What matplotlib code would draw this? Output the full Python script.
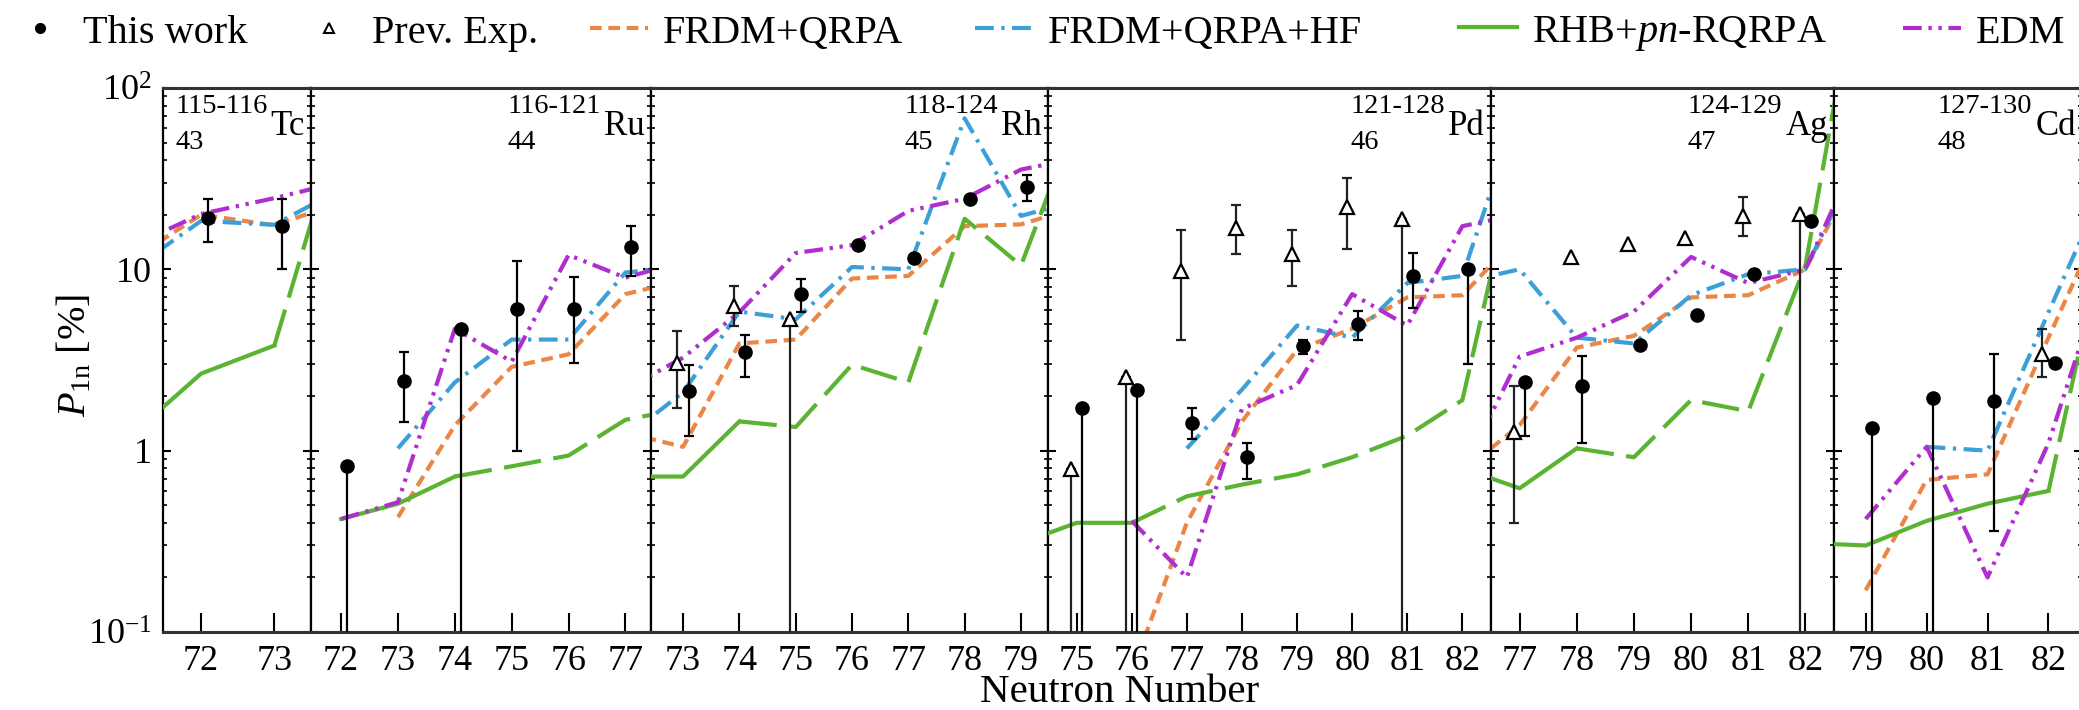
#!/usr/bin/env python
# -*- coding: utf-8 -*-
import numpy as np
import matplotlib
matplotlib.use('Agg')
import matplotlib.pyplot as plt
from matplotlib.lines import Line2D
from matplotlib.ticker import FixedLocator, FixedFormatter, LogLocator, NullFormatter, MultipleLocator

nan = np.nan

# chain labels
elements = ['Tc', 'Ru', 'Rh', 'Pd', 'Ag', 'Cd']
proton_numbers = ['43', '44', '45', '46', '47', '48']
mass_ranges = ['115-116', '116-121', '118-124', '121-128', '124-129', '127-130']
legend_labels = ['This work', 'Prev. Exp.', 'FRDM+QRPA', 'FRDM+QRPA+HF',
                 'RHB+$pn$-RQRPA', 'EDM']
ytick_values = [0.1, 1, 10, 100]
ytick_labels = [r'$10^{-1}$', '1', '10', r'$10^{2}$']

# model predictions of P1n [%] vs neutron number
n_tc = [71, 72, 73, 74]
frdm_tc = [11.0, 20.0, 17.5, 24.0]
frdm_hf_tc = [9.6, 18.5, 17.6, 29.0]
rhb_tc = [1.17, 2.66, 3.8, 85.0]
edm_tc = [13.1, 20.2, 24.7, 31.0]

n_ru = [72, 73, 74, 75, 76, 77, 78]
frdm_ru = [nan, 0.43, 1.38, 2.9, 3.4, 7.3, 8.7]
frdm_hf_ru = [nan, 1.03, 2.38, 4.1, 4.1, 9.6, 10.4]
rhb_ru = [0.42, 0.51, 0.72, 0.82, 0.94, 1.48, 1.7]
edm_ru = [0.42, 0.52, 4.7, 3.1, 12.0, 9.0, 11.0]

n_rh = [72, 73, 74, 75, 76, 77, 78, 79, 80]
frdm_rh = [1.25, 1.05, 3.9, 4.1, 8.9, 9.2, 17.3, 17.7, 22.0]
frdm_hf_rh = [1.2, 2.1, 5.85, 5.3, 10.3, 10.0, 68.0, 19.7, 24.0]
rhb_rh = [0.72, 0.72, 1.45, 1.35, 2.98, 2.38, 19.0, 10.5, 68.0]
edm_rh = [2.2, 3.26, 5.8, 12.3, 13.6, 21.0, 24.5, 35.5, 41.0]

n_pd = [74, 75, 76, 77, 78, 79, 80, 81, 82, 83]
frdm_pd = [nan, nan, 0.06, 0.40, 1.45, 3.6, 4.7, 7.0, 7.2, 15.0]
frdm_hf_pd = [nan, nan, nan, 1.03, 2.17, 4.9, 4.2, 8.4, 9.2, 73.0]
rhb_pd = [0.31, 0.40, 0.40, 0.56, 0.65, 0.74, 0.92, 1.21, 1.9, 40.0]
edm_pd = [nan, nan, 0.41, 0.20, 1.7, 2.3, 7.3, 4.9, 17.3, 20.0]

n_ag = [76, 77, 78, 79, 80, 81, 82, 83]
frdm_ag = [0.77, 1.38, 3.7, 4.3, 7.0, 7.2, 10.0, 40.0]
frdm_hf_ag = [8.5, 10.0, 4.2, 3.9, 7.2, 9.4, 10.0, 45.0]
rhb_ag = [0.80, 0.62, 1.03, 0.92, 1.9, 1.65, 10.5, 600.0]
edm_ag = [0.76, 3.3, 4.2, 5.85, 11.7, 8.4, 10.0, 50.0]

n_cd = [78, 79, 80, 81, 82, 83]
frdm_cd = [nan, 0.17, 0.69, 0.74, 4.2, 23.0]
frdm_hf_cd = [nan, nan, 1.05, 1.0, 5.8, 33.0]
rhb_cd = [0.31, 0.30, 0.41, 0.51, 0.60, 20.0]
edm_cd = [nan, 0.42, 1.05, 0.20, 1.1, 12.0]

# this work: value, lower and upper error (nan = no bar drawn)
tw_n_tc = [72, 73]
tw_p_tc = [19.2, 17.3]
tw_lo_tc = [5.1, 7.2]
tw_hi_tc = [5.3, 7.2]

tw_n_ru = [72, 73, 74, 75, 76, 77]
tw_p_ru = [0.82, 2.43, 4.67, 6.06, 6.06, 13.2]
tw_lo_ru = [0.82, 1.0, 4.67, 5.06, 3.0, 4.0]
tw_hi_ru = [0.0, 1.05, 0.0, 5.1, 3.0, 4.1]

tw_n_rh = [73, 74, 75, 76, 77, 78, 79]
tw_p_rh = [2.12, 3.48, 7.33, 13.6, 11.5, 24.5, 28.6]
tw_lo_rh = [0.91, 0.94, 1.48, nan, nan, nan, 4.9]
tw_hi_rh = [0.86, 0.89, 1.52, nan, nan, nan, 4.6]

tw_n_pd = [75, 76, 77, 78, 79, 80, 81, 82]
tw_p_pd = [1.73, 2.15, 1.42, 0.92, 3.76, 5.0, 9.2, 10.1]
tw_lo_pd = [1.73, 2.15, 0.26, 0.22, 0.36, 0.9, 3.1, 7.1]
tw_hi_pd = [0.0, 0.0, 0.3, 0.18, 0.34, 0.9, 3.1, 0.0]

tw_n_ag = [77, 78, 79, 80, 81, 82]
tw_p_ag = [2.38, 2.27, 3.81, 5.6, 9.4, 18.5]
tw_lo_ag = [1.17, 1.17, nan, nan, nan, nan]
tw_hi_ag = [0.0, 1.07, nan, nan, nan, nan]

tw_n_cd = [79, 80, 81, 82]
tw_p_cd = [1.33, 1.94, 1.88, 3.04]
tw_lo_cd = [1.33, 1.94, 1.52, nan]
tw_hi_cd = [0.0, 0.0, 1.52, nan]

# previous measurements
pe_n_rh = [73, 74, 75]
pe_p_rh = [3.04, 6.25, 5.34]
pe_lo_rh = [1.31, 1.36, 5.34]
pe_hi_rh = [1.53, 1.84, 0.0]

pe_n_pd = [75, 76, 77, 78, 79, 80, 81]
pe_p_pd = [0.79, 2.54, 9.8, 16.9, 12.1, 22.1, 18.9]
pe_lo_pd = [0.79, 2.54, 5.7, 4.8, 4.0, 9.1, 18.9]
pe_hi_pd = [0.0, 0.0, 6.7, 5.7, 4.4, 9.6, 0.0]

pe_n_ag = [77, 78, 79, 80, 81, 82]
pe_p_ag = [1.27, 11.7, 13.8, 14.9, 19.7, 20.2]
pe_lo_ag = [0.87, nan, nan, nan, 4.5, 20.2]
pe_hi_ag = [1.0, nan, nan, nan, 5.2, 0.0]

pe_n_cd = [82]
pe_p_cd = [3.4]
pe_lo_cd = [0.86]
pe_hi_cd = [1.3]

empty = []

models = [
    (n_tc, frdm_tc, frdm_hf_tc, rhb_tc, edm_tc),
    (n_ru, frdm_ru, frdm_hf_ru, rhb_ru, edm_ru),
    (n_rh, frdm_rh, frdm_hf_rh, rhb_rh, edm_rh),
    (n_pd, frdm_pd, frdm_hf_pd, rhb_pd, edm_pd),
    (n_ag, frdm_ag, frdm_hf_ag, rhb_ag, edm_ag),
    (n_cd, frdm_cd, frdm_hf_cd, rhb_cd, edm_cd),
]
this_work = [
    (tw_n_tc, tw_p_tc, tw_lo_tc, tw_hi_tc),
    (tw_n_ru, tw_p_ru, tw_lo_ru, tw_hi_ru),
    (tw_n_rh, tw_p_rh, tw_lo_rh, tw_hi_rh),
    (tw_n_pd, tw_p_pd, tw_lo_pd, tw_hi_pd),
    (tw_n_ag, tw_p_ag, tw_lo_ag, tw_hi_ag),
    (tw_n_cd, tw_p_cd, tw_lo_cd, tw_hi_cd),
]
prev_exp = [
    (empty, empty, empty, empty),
    (empty, empty, empty, empty),
    (pe_n_rh, pe_p_rh, pe_lo_rh, pe_hi_rh),
    (pe_n_pd, pe_p_pd, pe_lo_pd, pe_hi_pd),
    (pe_n_ag, pe_p_ag, pe_lo_ag, pe_hi_ag),
    (pe_n_cd, pe_p_cd, pe_lo_cd, pe_hi_cd),
]

# ---- layout (pixels of a 2079x710 canvas) ----
W, H = 2079, 710
panel_edges = [163, 311, 651, 1048, 1491, 1834, 2082]
panel_xlims = [(71.48, 73.5), (71.47, 77.45), (72.43, 79.48),
               (74.48, 82.52), (76.5, 82.5), (78.48, 82.55)]
ax_top, ax_bot = 88, 632
legend_x = [11, 300, 590, 975, 1459, 1903]   # left edge of each legend handle
rhb_dash_from = [73, 74, 74, 76, 78, 82]     # RHB curve drawn dashed beyond this N

plt.rcParams['font.family'] = ['Liberation Serif', 'DejaVu Serif']
plt.rcParams['mathtext.fontset'] = 'custom'
plt.rcParams['mathtext.rm'] = 'Liberation Serif'
plt.rcParams['mathtext.it'] = 'Liberation Serif:italic'
plt.rcParams['mathtext.bf'] = 'Liberation Serif:bold'

FRDM_STYLE = dict(color='#EB8746', lw=3.0, dashes=(2.8, 1.6))
HF_STYLE = dict(color='#3CA0D7', lw=3.0, dashes=(4.5, 1.8, 0.8, 1.8))
RHB_STYLE = dict(color='#5AB432', lw=3.0)
RHB_DASHES = (9, 3)
EDM_STYLE = dict(color='#B02ED0', lw=3.0, dashes=(4.5, 1.6, 0.8, 1.6, 0.8, 1.6))
TW_MARKER = dict(marker='o', color='k', ms=9.5)
PE_MARKER = dict(marker='^', mfc='white', mec='k', mew=1.6, ms=9.5)
SHIFT = 0.1


def draw_points(ax, n, p, lo, hi, shift, marker_kw, ecolor):
    if len(n) == 0:
        return
    n = np.asarray(n, float) + shift
    p = np.asarray(p, float)
    lo = np.asarray(lo, float)
    hi = np.asarray(hi, float)
    ok = np.isfinite(lo)
    if ok.any():
        ax.errorbar(n[ok], p[ok], yerr=[lo[ok], hi[ok]], fmt='none',
                    ecolor=ecolor, elinewidth=1.6, capsize=3.5, capthick=1.6,
                    zorder=5)
    ax.plot(n, p, ls='none', zorder=6, **marker_kw)


fig = plt.figure(figsize=(W / 100, H / 100), dpi=100)
axes = []
for i in range(6):
    x0, x1 = panel_edges[i], panel_edges[i + 1]
    ax = fig.add_axes([x0 / W, (H - ax_bot) / H, (x1 - x0) / W, (ax_bot - ax_top) / H],
                      sharey=axes[0] if axes else None)
    axes.append(ax)

    n, frdm, hf, rhb, edm = (np.asarray(a, float) for a in models[i])
    ax.plot(n, frdm, zorder=2, **FRDM_STYLE)
    ax.plot(n, hf, zorder=2, **HF_STYLE)
    solid = n <= rhb_dash_from[i]
    dashed = n >= rhb_dash_from[i]
    ax.plot(n[solid], rhb[solid], zorder=3, **RHB_STYLE)
    ax.plot(n[dashed], rhb[dashed], zorder=3, dashes=RHB_DASHES, **RHB_STYLE)
    ax.plot(n, edm, zorder=4, **EDM_STYLE)

    draw_points(ax, *prev_exp[i], -SHIFT, PE_MARKER, '#222222')
    draw_points(ax, *this_work[i], SHIFT, TW_MARKER, 'k')

    ax.set_yscale('log')
    ax.set_ylim(0.1, 100)
    ax.set_xlim(*panel_xlims[i])
    ax.xaxis.set_major_locator(MultipleLocator(1))
    ax.yaxis.set_major_locator(FixedLocator(ytick_values))
    ax.yaxis.set_major_formatter(FixedFormatter(ytick_labels))
    ax.yaxis.set_minor_locator(LogLocator(base=10, subs=np.arange(2, 10)))
    ax.yaxis.set_minor_formatter(NullFormatter())
    ax.tick_params(axis='x', direction='in', length=14, width=1.5, top=False,
                   labelsize=26, pad=9)
    ax.tick_params(axis='y', which='major', direction='in', length=6, width=1.5,
                   left=True, right=True, labelsize=26, pad=8)
    ax.tick_params(axis='y', which='minor', direction='in', length=3.2, width=1.2,
                   left=True, right=True)
    if i > 0:
        ax.tick_params(axis='y', which='both', labelleft=False)
    for side in ('left', 'right'):
        ax.spines[side].set_linewidth(1.6)
    for side in ('top', 'bottom'):
        ax.spines[side].set_linewidth(2.2)
        ax.spines[side].set_color('#333333')

    # nuclide label: mass range / Z / symbol
    sym = ax.annotate(elements[i], xy=(1, 1), xycoords='axes fraction',
                      xytext=(-4.5, -34), textcoords='offset points',
                      ha='right', va='baseline', fontsize=25)
    mass = ax.annotate(mass_ranges[i], xy=(0, 0), xycoords=sym,
                       xytext=(-2, 22), textcoords='offset points',
                       ha='right', va='baseline', fontsize=20.5)
    ax.annotate(proton_numbers[i], xy=(0, 0), xycoords=mass,
                xytext=(0, -22), textcoords='offset points',
                ha='left', va='baseline', fontsize=20.5)

fig.text(75 / W, 0.5, r'$P_{\mathrm{1n}}$ [%]', rotation=90, ha='center',
         va='center', fontsize=29)
fig.text(1120 / W, (H - 693) / H, 'Neutron Number', ha='center', va='center',
         fontsize=29.5)

handles = [
    Line2D([], [], ls='none', marker='o', color='k', ms=7),
    Line2D([], [], ls='none', marker='^', mfc='white', mec='k', mew=1.5, ms=7),
    Line2D([], [], **FRDM_STYLE),
    Line2D([], [], **HF_STYLE),
    Line2D([], [], **RHB_STYLE),
    Line2D([], [], **EDM_STYLE),
]
# one legend per entry so the uneven spacing of the row can be kept
for h, lab, lx in zip(handles, legend_labels, legend_x):
    fig.legend([h], [lab], loc='center left', bbox_to_anchor=(lx / W, 1 - 33 / H),
               frameon=False, fontsize=29, handlelength=1.45, handletextpad=0.35,
               borderpad=0, borderaxespad=0)

fig.savefig('out.png', dpi=100)
